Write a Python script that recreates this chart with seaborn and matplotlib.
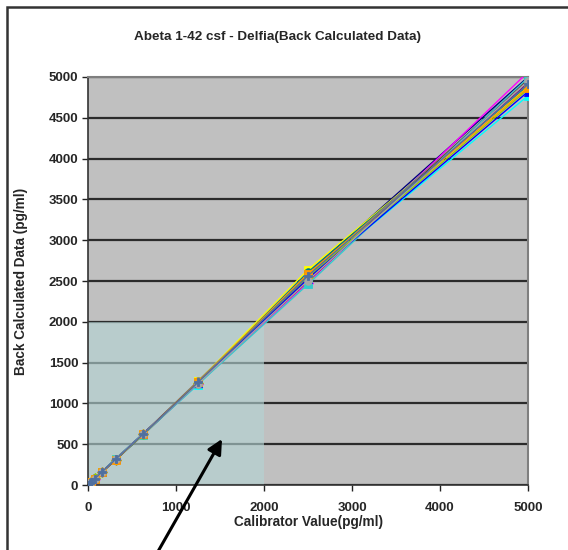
import matplotlib
matplotlib.use("Agg")
import matplotlib.pyplot as plt
from matplotlib.patches import Rectangle
import seaborn as sns
import pandas as pd
import numpy as np

calibrator = [0, 19.5, 39, 78, 156, 312.5, 625, 1250, 2500, 5000]

series_names = ["Run 1", "Run 2", "Run 3", "Run 4", "Run 5", "Run 6", "Run 7",
                "Run 8", "Run 9", "Run 10", "Run 11", "Run 12", "Run 13", "Run 14"]
series_values = [
    [2, 21, 40, 80, 158, 318, 618, 1265, 2595, 5000],
    [0, 18, 37, 76, 154, 310, 622, 1240, 2480, 5060],
    [1, 20, 39, 79, 157, 315, 615, 1270, 2640, 4880],
    [3, 22, 41, 77, 160, 320, 630, 1230, 2540, 4770],
    [0, 19, 38, 78, 155, 305, 612, 1250, 2610, 4900],
    [2, 20, 40, 81, 159, 322, 628, 1275, 2570, 4960],
    [1, 19, 39, 77, 156, 312, 620, 1245, 2520, 4930],
    [0, 21, 38, 79, 153, 308, 625, 1260, 2500, 4980],
    [2, 18, 40, 78, 157, 316, 617, 1235, 2460, 4990],
    [1, 20, 41, 80, 155, 311, 623, 1255, 2550, 4850],
    [0, 22, 37, 76, 158, 314, 626, 1248, 2530, 4820],
    [3, 19, 39, 79, 156, 309, 619, 1262, 2590, 4870],
    [1, 20, 38, 77, 154, 317, 624, 1242, 2505, 4950],
    [2, 21, 40, 78, 157, 313, 621, 1258, 2565, 4910],
]
series_colors = ["#000080", "#FF00FF", "#FFFF00", "#00FFFF", "#008080", "#808080",
                 "#800080", "#800000", "#33CCCC", "#99CC00", "#0000FF", "#FF9900",
                 "#A6A6A6", "#4F6F9F"]
series_markers = ["o", "D", "s", "^", "o", "o", "X", "*", "s", "D", "^", "s", "o", "P"]

x_ticks = [0, 1000, 2000, 3000, 4000, 5000]
y_ticks = [0, 500, 1000, 1500, 2000, 2500, 3000, 3500, 4000, 4500, 5000]

rows = []
for name, vals in zip(series_names, series_values):
    for c, v in zip(calibrator, vals):
        rows.append({"Calibrator": c, "Back": v, "Series": name})
df = pd.DataFrame(rows)

sns.set_theme(style="white")
plt.rcParams["font.family"] = ["Liberation Sans", "DejaVu Sans"]

fig = plt.figure(figsize=(5.68, 5.5), dpi=100)
W, H = 568, 550
L, R, T, B = 88, 528, 77, 485
ax = fig.add_axes([L / W, 1 - B / H, (R - L) / W, (B - T) / H])
ax.set_facecolor("#C0C0C0")

ax.set_axisbelow(True)
ax.grid(axis="y", color="#2b2b2b", linewidth=1.6, zorder=0.5)
ax.grid(axis="x", visible=False)

ax.add_patch(Rectangle((0, 0), 2000, 2000, facecolor="#B4D4D4", alpha=0.62,
                       edgecolor="none", zorder=1))

sns.lineplot(data=df, x="Calibrator", y="Back", hue="Series", style="Series",
             palette=dict(zip(series_names, series_colors)),
             markers=dict(zip(series_names, series_markers)),
             dashes=False, markersize=5.5, linewidth=1.0, legend=False,
             markeredgewidth=0.6, ax=ax, zorder=3)
for ln in ax.lines:
    if ln.get_marker() not in (None, "None", ""):
        ln.set_markeredgecolor(ln.get_color())

ax.set_xlim(0, 5000)
ax.set_ylim(0, 5000)
ax.set_xticks(x_ticks)
ax.set_yticks(y_ticks)
ax.tick_params(axis="both", which="both", direction="out", length=4, width=1,
               color="#222222", labelsize=9.5, bottom=True, left=True, pad=3)
for lab in ax.get_xticklabels() + ax.get_yticklabels():
    lab.set_fontweight("bold")
ax.tick_params(axis="x", pad=8)

for s in ["top", "right"]:
    ax.spines[s].set_color("#7f7f7f")
    ax.spines[s].set_linewidth(1.5)
for s in ["left", "bottom"]:
    ax.spines[s].set_color("#333333")
    ax.spines[s].set_linewidth(1.2)

ax.set_xlabel("Calibrator Value(pg/ml)", fontsize=9.8, fontweight="bold", labelpad=1)
ax.set_ylabel("Back Calculated Data (pg/ml)", fontsize=9.8, fontweight="bold", labelpad=15)

fig.text(277 / W, 1 - 37 / H, "Abeta 1-42 csf - Delfia(Back Calculated Data)",
         ha="center", va="center", fontsize=9.7, fontweight="bold")

# outer frame (extends beyond right and bottom edges)
fig.add_artist(Rectangle((7 / W, -0.05), 1.1, 1 - 7 / H + 0.05, transform=fig.transFigure,
                         fill=False, edgecolor="#333333", linewidth=1.8))

# arrow
ax.annotate("", xy=(222 / W, 1 - 439 / H), xycoords="figure fraction",
            xytext=(152 / W, 1 - 562 / H), textcoords="figure fraction",
            arrowprops=dict(arrowstyle="-|>", color="black", lw=2.2,
                            mutation_scale=22, shrinkA=0, shrinkB=0),
            annotation_clip=False, zorder=10)

fig.savefig("out.png", dpi=100)
